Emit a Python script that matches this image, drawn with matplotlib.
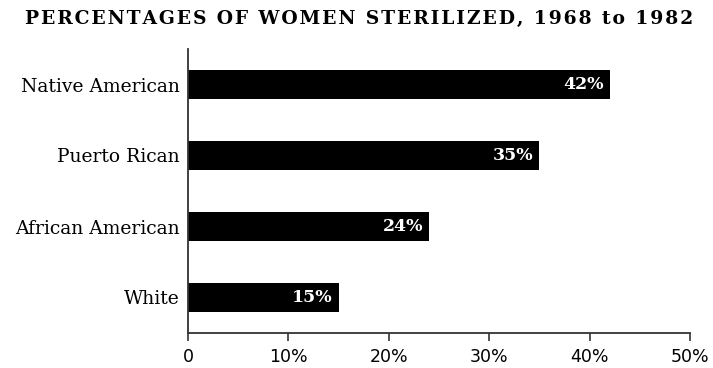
import matplotlib.pyplot as plt

groups = ["Native American", "Puerto Rican", "African American", "White"]
percents = [42, 35, 24, 15]
xticks = [0, 10, 20, 30, 40, 50]
xtick_labels = ["0", "10%", "20%", "30%", "40%", "50%"]
title = "PERCENTAGES OF WOMEN STERILIZED, 1968 to 1982"

serif = ["DejaVu Serif"]

fig = plt.figure(figsize=(7.13, 3.68), dpi=100)
ax = fig.add_axes([188 / 713, 35 / 368, 502 / 713, 284 / 368])

pos = list(range(len(groups)))
ax.barh(pos, percents, height=0.42, color="black")
for p, v in zip(pos, percents):
    ax.text(v - 0.6, p, f"{v}%", color="white", ha="right", va="center",
            fontsize=12.5, fontweight="bold", family=serif)

ax.set_xlim(0, 50)
ax.set_ylim(3.5, -0.5)
ax.set_yticks(pos)
ax.set_yticklabels(groups, family=serif, fontsize=13.5)
ax.set_xticks(xticks)
ax.set_xticklabels(xtick_labels, family="DejaVu Sans", fontsize=12.5)
ax.tick_params(axis="y", length=0, pad=6)
ax.tick_params(axis="x", length=6, width=1.2, color="#333333", pad=5)

for s in ["top", "right"]:
    ax.spines[s].set_visible(False)
for s in ["left", "bottom"]:
    ax.spines[s].set_color("#333333")
    ax.spines[s].set_linewidth(1.3)

# letter-spaced title, hair spaces between characters
spaced = "\u200a".join(title)
fig.text(0.503, 0.948, spaced, ha="center", va="center", fontsize=13.5,
         fontweight="bold", family=serif)

fig.savefig("out.png", dpi=100)
